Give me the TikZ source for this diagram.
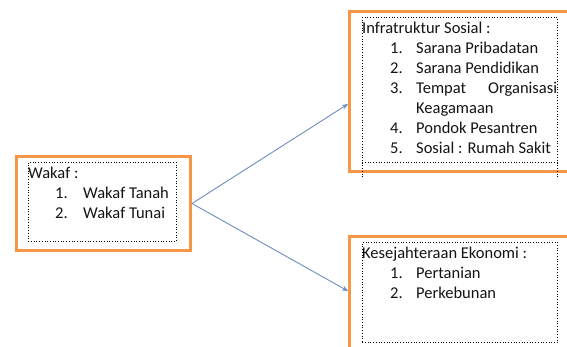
\documentclass[tikz,border=0pt]{standalone}
\usepackage{fontspec}
\setmainfont{Carlito}
\usetikzlibrary{arrows.meta}
\definecolor{boxorange}{RGB}{247,150,70}
\definecolor{arrowblue}{RGB}{110,140,190}
\definecolor{txt}{RGB}{20,20,20}
\tikzset{
  orangebox/.style={draw=boxorange, line width=3pt, fill=white, inner sep=0pt, anchor=north west},
  dotbox/.style={draw=black, dotted, line width=0.7pt, inner sep=0pt, anchor=north west},
  txtline/.style={anchor=base west, inner sep=0pt, font=\fontsize{16.5}{18}\selectfont, text=txt},
  link/.style={draw=arrowblue, line width=0.9pt, -{Stealth[length=6pt,width=5pt]}}
}
\begin{document}
\begin{tikzpicture}[x=1pt,y=-1pt]
\useasboundingbox (0,0) rectangle (567,346);
% Wakaf box
\node[orangebox, minimum width=174pt, minimum height=94pt] (wakaf) at (15,155) {};
\node[dotbox, minimum width=148pt, minimum height=79pt] (wakafin) at (28,162) {};
\node[txtline] (w0) at (28,178) {Wakaf :};
\node[txtline] (w1n) at (55,198) {1.};
\node[txtline] (w1) at (83,198) {Wakaf Tanah};
\node[txtline] (w2n) at (55,218) {2.};
\node[txtline] (w2) at (83,218) {Wakaf Tunai};
% Infrastruktur box
\node[orangebox, minimum width=230pt, minimum height=160pt] (infra) at (348,10) {};
\node[dotbox, minimum width=195pt, minimum height=145pt] (infrain) at (362,17) {};
\draw[black, dotted, line width=0.7pt] (infrain.south west) -- ++(0,16) coordinate (ia);
\draw[black, dotted, line width=0.7pt] (infrain.south east) -- ++(0,16) coordinate (ib);
\begin{scope}
\clip (362,17) rectangle (557,162);
\node[txtline] (i0) at (362,33) {Infratruktur Sosial :};
\node[txtline] (i1n) at (390,53) {1.};
\node[txtline] (i1) at (416,53) {Sarana Pribadatan};
\node[txtline] (i2n) at (390,73) {2.};
\node[txtline] (i2) at (416,73) {Sarana Pendidikan};
\node[txtline] (i3n) at (390,93) {3.};
\node[txtline] (i3) at (416,93) {Tempat};
\node[txtline] (i3b) at (488,93) {Organisasi};
\node[txtline] (i3c) at (416,113) {Keagamaan};
\node[txtline] (i4n) at (390,133) {4.};
\node[txtline] (i4) at (416,133) {Pondok Pesantren};
\node[txtline] (i5n) at (390,153) {5.};
\node[txtline] (i5) at (416,153) {Sosial : Rumah Sakit};
\end{scope}
% Kesejahteraan box
\node[orangebox, minimum width=230pt, minimum height=130pt] (eko) at (348,235) {};
\node[dotbox, minimum width=195pt, minimum height=100pt] (ekoin) at (362,242) {};
\node[txtline] (e0) at (362,258) {Kesejahteraan Ekonomi :};
\node[txtline] (e1n) at (390,278) {1.};
\node[txtline] (e1) at (416,278) {Pertanian};
\node[txtline] (e2n) at (390,298) {2.};
\node[txtline] (e2) at (416,298) {Perkebunan};
% connectors
\coordinate (src) at (wakaf.east);
\draw[link] (src) -- (infra.west |- 0,104);
\draw[link] (src) -- (eko.west |- 0,291);
\end{tikzpicture}
\end{document}
